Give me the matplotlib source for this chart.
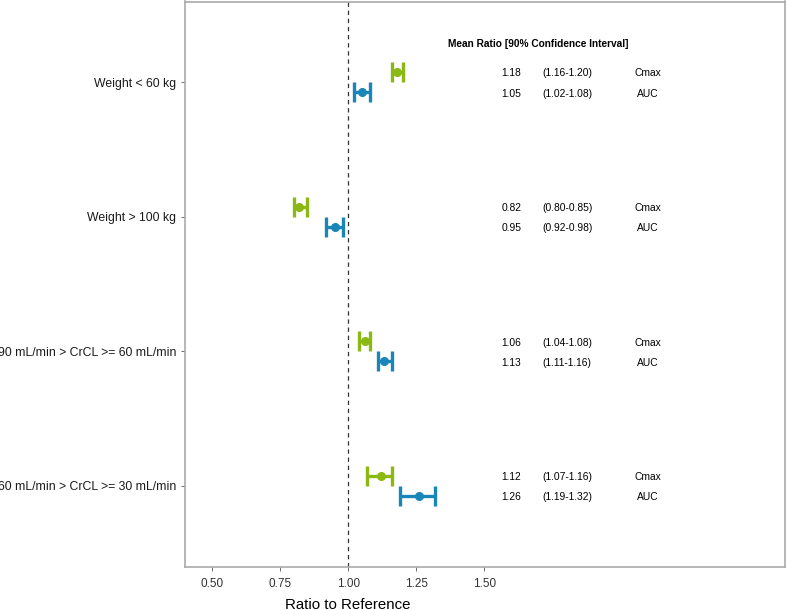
import numpy as np
import matplotlib.pyplot as plt

plt.rcParams['font.family'] = ['Liberation Sans', 'DejaVu Sans']

# Data
categories = ["Weight < 60 kg", "Weight > 100 kg",
              "90 mL/min > CrCL >= 60 mL/min", "60 mL/min > CrCL >= 30 mL/min"]
cmax_mean = [1.18, 0.82, 1.06, 1.12]
cmax_lo = [1.16, 0.80, 1.04, 1.07]
cmax_hi = [1.20, 0.85, 1.08, 1.16]
auc_mean = [1.05, 0.95, 1.13, 1.26]
auc_lo = [1.02, 0.92, 1.11, 1.19]
auc_hi = [1.08, 0.98, 1.16, 1.32]
x_ticks = [0.50, 0.75, 1.00, 1.25, 1.50]

GREEN = "#8cb814"
BLUE = "#1a86b8"

fig = plt.figure(figsize=(7.87, 6.10), dpi=100)
ax = fig.add_axes([185 / 787, 1 - 566.5 / 610, 600 / 787, 565 / 610])

pos = np.arange(1, len(categories) + 1)
dodge = 0.075

for means, lo, hi, col, off in [(cmax_mean, cmax_lo, cmax_hi, GREEN, -dodge),
                                 (auc_mean, auc_lo, auc_hi, BLUE, dodge)]:
    means = np.asarray(means)
    err = [means - np.asarray(lo), np.asarray(hi) - means]
    ax.errorbar(means, pos + off, xerr=err, fmt='o', color=col, ms=5.5,
                elinewidth=2.4, capsize=7, capthick=2.4, zorder=3)

ax.axvline(1.0, color='#333333', ls=(0, (3.5, 3)), lw=0.9, zorder=1)

# annotation table
ax.text(1.70, 0.715, "Mean Ratio [90% Confidence Interval]", ha='center',
        va='center', fontsize=7.3, fontweight='bold')
for i, p in enumerate(pos):
    for m, lo, hi, name, off in [(cmax_mean[i], cmax_lo[i], cmax_hi[i], "Cmax", -dodge),
                                  (auc_mean[i], auc_lo[i], auc_hi[i], "AUC", dodge)]:
        y = p + off + 0.01
        ax.text(1.60, y, f"{m:.2f}", ha='center', va='center', fontsize=7.4)
        ax.text(1.805, y, f"({lo:.2f}-{hi:.2f})", ha='center', va='center', fontsize=7.4)
        ax.text(2.10, y, name, ha='center', va='center', fontsize=7.4)

ax.set_xlim(0.40, 2.606)
ax.set_ylim(4.6, 0.4)
ax.set_xticks(x_ticks)
ax.set_xticklabels([f"{v:.2f}" for v in x_ticks], fontsize=8.5, color='#333333')
ax.set_yticks(pos)
ax.set_yticklabels(categories, fontsize=8.8, color='#1a1a1a')
ax.tick_params(axis='both', length=3, color='#555555', width=0.6)
ax.tick_params(axis='x', pad=5)
ax.set_xlabel("Ratio to Reference", fontsize=10.8, labelpad=7)
ax.xaxis.set_label_coords((348 - 185) / 600, -0.055)

for s in ax.spines.values():
    s.set_color('#aaaaaa')
    s.set_linewidth(1.2)

fig.savefig("out.png", dpi=100)
